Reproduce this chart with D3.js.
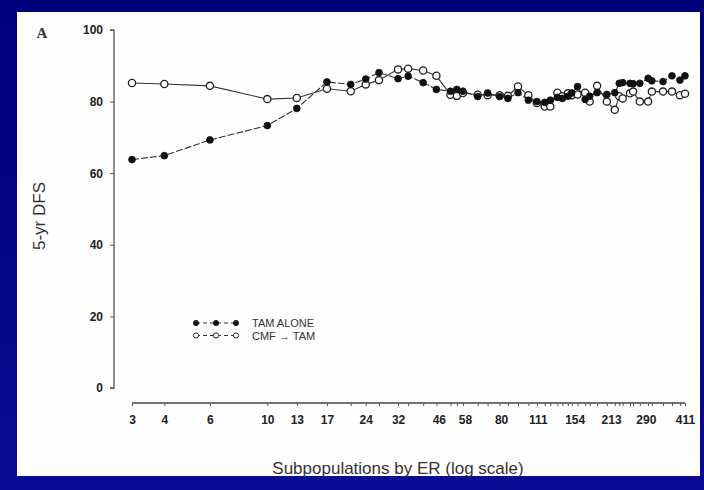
<!DOCTYPE html>
<html><head><meta charset="utf-8">
<script src="https://cdn.jsdelivr.net/npm/d3@7"></script>
<style>html,body{margin:0;padding:0;background:#000080;}svg{display:block;}</style>
</head><body>
<svg id="c" width="704" height="490"></svg>
<script>
const erLevels = [3,4,6,10,13,17,21,24,27,32,35,40,45,51,54,57,65,71,79,85,93,102,110,118,124,132,138,145,150,158,169,176,188,205,220,229,236,252,259,275,296,306,338,366,393,411];
const tamAlone = [63.8,64.9,69.3,73.3,78.1,85.5,84.8,86.3,88.1,86.4,87.1,85.3,83.4,82.9,83.4,82.9,81.4,82.4,81.4,80.9,82.5,80.4,80.0,79.8,80.4,81.2,80.9,81.5,82.4,84.2,80.6,81.5,82.5,82.0,82.5,85.1,85.3,85.1,85.0,85.1,86.5,85.8,85.6,87.2,86.0,87.2];
const cmfTam = [85.2,84.9,84.4,80.7,81.0,83.6,82.9,84.8,86.0,89.0,89.2,88.7,87.2,81.9,81.6,82.4,81.9,81.8,81.8,81.6,84.2,81.8,79.6,78.6,78.6,82.5,81.5,82.3,81.8,82.0,82.5,80.0,84.4,80.0,77.7,81.5,80.9,82.3,82.8,80.0,80.0,82.8,82.8,82.8,81.8,82.2];
const xTickLabels = [3,4,6,10,13,17,24,32,46,58,80,111,154,213,290,411];
const yTickLabels = [0,20,40,60,80,100];
const seriesNames = ["TAM ALONE","CMF \u2192 TAM"];

const svg = d3.select("#c");
const defs = svg.append("defs");
const g = defs.append("linearGradient").attr("id","bg").attr("x1",0).attr("y1",0).attr("x2",0).attr("y2",1);
g.append("stop").attr("offset","0%").attr("stop-color","#00007a");
g.append("stop").attr("offset","100%").attr("stop-color","#0a0a94");
svg.append("rect").attr("width",704).attr("height",490).attr("fill","url(#bg)");
svg.append("rect").attr("x",17).attr("y",12).attr("width",683).attr("height",464).attr("fill","#fefefe");

const x = d3.scaleLog().domain([3,411]).range([132,685]);
const y = d3.scaleLinear().domain([0,100]).range([388,30]);

const tickFont = "Liberation Sans Narrow, Liberation Sans, Arial";

// Y axis
const yAxis = d3.axisLeft(y).tickValues(yTickLabels).tickSize(4).tickPadding(7).tickFormat(d3.format("d"));
const ya = svg.append("g").attr("transform","translate(114,0)").call(yAxis);
ya.select(".domain").attr("stroke","#555").attr("stroke-width",1.3).attr("d","M-4,30H0V388H-4");
ya.selectAll(".tick line").attr("stroke","#555");
ya.selectAll(".tick text").attr("font-family",tickFont).attr("font-weight","bold").attr("font-size",12).attr("fill","#222");

// X axis
const xAxis = d3.axisBottom(x).tickValues(erLevels).tickSize(3).tickFormat("");
const xa = svg.append("g").attr("transform","translate(0,403)").call(xAxis);
xa.select(".domain").attr("stroke","#444").attr("stroke-width",1.3).attr("d","M132,0H685");
xa.selectAll(".tick line").attr("stroke","#555");
const xLab = d3.axisBottom(x).tickValues(xTickLabels).tickSize(0).tickPadding(12).tickFormat(d3.format("d"));
const xl = svg.append("g").attr("transform","translate(0,403)").call(xLab);
xl.select(".domain").remove();
xl.selectAll(".tick text").attr("font-family",tickFont).attr("font-weight","bold").attr("font-size",12).attr("fill","#222");

// Titles
svg.append("text").attr("x",398).attr("y",474).attr("text-anchor","middle")
  .attr("font-family","Liberation Sans, Arial").attr("font-size",17).attr("fill","#333")
  .text("Subpopulations by ER (log scale)");
svg.append("text").attr("transform","translate(45,216) rotate(-90)").attr("text-anchor","middle")
  .attr("font-family","Liberation Sans, Arial").attr("font-size",17).attr("fill","#333")
  .text("5-yr DFS");
svg.append("text").attr("x",42).attr("y",38).attr("text-anchor","middle")
  .attr("font-family","Liberation Serif, serif").attr("font-weight","bold").attr("font-size",15).attr("fill","#333")
  .text("A");

// Lines and markers
const line = d3.line().x(d=>x(d[0])).y(d=>y(d[1]));
const tamData = erLevels.map((e,i)=>[e,tamAlone[i]]);
const cmfData = erLevels.map((e,i)=>[e,cmfTam[i]]);
svg.append("path").attr("d",line(cmfData)).attr("fill","none").attr("stroke","#333").attr("stroke-width",1.1);
svg.append("path").attr("d",line(tamData)).attr("fill","none").attr("stroke","#333").attr("stroke-width",1.1).attr("stroke-dasharray","7,2");
svg.append("g").selectAll("circle").data(cmfData).join("circle")
  .attr("cx",d=>x(d[0])).attr("cy",d=>y(d[1])).attr("r",3.6)
  .attr("fill","#fff").attr("stroke","#222").attr("stroke-width",1.3);
svg.append("g").selectAll("circle").data(tamData).join("circle")
  .attr("cx",d=>x(d[0])).attr("cy",d=>y(d[1])).attr("r",3.4)
  .attr("fill","#111").attr("stroke","#111").attr("stroke-width",0.8);

// Legend
const leg = svg.append("g");
[0,1].forEach(k=>{
  const yy = 323 + k*12.5;
  leg.append("line").attr("x1",196).attr("x2",236).attr("y1",yy).attr("y2",yy)
    .attr("stroke","#333").attr("stroke-width",1).attr("stroke-dasharray","4,3");
  [196,216,236].forEach(cx=>{
    leg.append("circle").attr("cx",cx).attr("cy",yy).attr("r",2.6)
      .attr("fill",k===0?"#111":"#fff").attr("stroke","#222").attr("stroke-width",1);
  });
  leg.append("text").attr("x",252).attr("y",yy+4)
    .attr("font-family",tickFont).attr("font-size",11).attr("fill","#333")
    .text(seriesNames[k]);
});
</script>
</body></html>
